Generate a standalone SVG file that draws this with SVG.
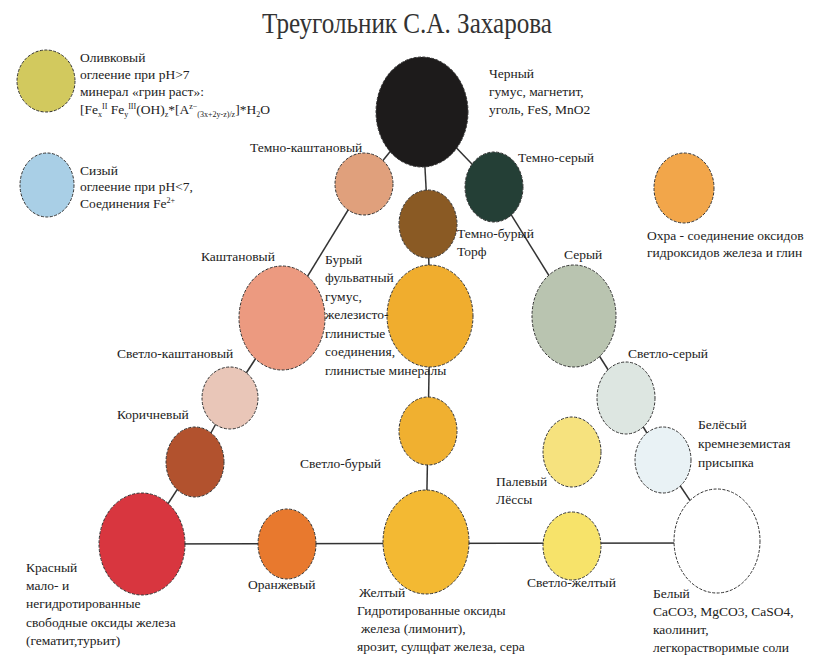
<svg xmlns="http://www.w3.org/2000/svg" width="817" height="660" viewBox="0 0 817 660">
<defs>
  <marker id="none" markerWidth="1" markerHeight="1"/>
</defs>
<rect width="817" height="660" fill="#ffffff"/>
<text font-family="Liberation Serif" font-size="30" fill="#333" x="262" y="33" textLength="290" lengthAdjust="spacingAndGlyphs">Треугольник С.А. Захарова</text>

<g id="connectors" stroke="#333" stroke-width="1.5">
  <line x1="422" y1="112" x2="364" y2="184"/>
  <line x1="364" y1="184" x2="282" y2="318"/>
  <line x1="282" y1="318" x2="230" y2="398"/>
  <line x1="230" y1="398" x2="195" y2="462"/>
  <line x1="195" y1="462" x2="142" y2="544"/>
  <line x1="422" y1="112" x2="428" y2="224"/>
  <line x1="428" y1="224" x2="430" y2="316"/>
  <line x1="430" y1="316" x2="428" y2="431"/>
  <line x1="428" y1="431" x2="426" y2="542"/>
  <line x1="422" y1="112" x2="494" y2="187"/>
  <line x1="494" y1="187" x2="574" y2="316"/>
  <line x1="574" y1="316" x2="626" y2="398"/>
  <line x1="626" y1="398" x2="663" y2="460"/>
  <line x1="663" y1="460" x2="717" y2="541"/>
  <line x1="142" y1="544" x2="717" y2="543"/>
</g>

<g font-family="Liberation Serif" font-size="13.5" fill="#222">

<g id="legend-olive">
  <ellipse cx="46" cy="81" rx="29" ry="31" fill="#d2c95e" stroke="#333" stroke-dasharray="3 1.5"/>
  <text x="80" y="62">Оливковый</text>
  <text x="80" y="79">оглеение при pH&gt;7</text>
  <text x="80" y="96">минерал «грин раст»:</text>
  <text x="80" y="114">[Fe<tspan font-size="8" dy="3">x</tspan><tspan font-size="8" dy="-8">II</tspan><tspan dy="5"> Fe</tspan><tspan font-size="8" dy="3">y</tspan><tspan font-size="8" dy="-8">III</tspan><tspan dy="5">(OH)</tspan><tspan font-size="8" dy="3">z</tspan><tspan dy="-3">*[A</tspan><tspan font-size="8" dy="-5">z−</tspan><tspan font-size="8" dy="8">(3x+2y-z)/z</tspan><tspan dy="-3">]*H</tspan><tspan font-size="8" dy="3">2</tspan><tspan dy="-3">O</tspan></text>
</g>

<g id="legend-blue">
  <ellipse cx="47" cy="185" rx="27" ry="32" fill="#a9cfe6" stroke="#333" stroke-dasharray="3 1.5"/>
  <text x="80" y="175">Сизый</text>
  <text x="80" y="191">оглеение при pH&lt;7,</text>
  <text x="80" y="208">Соединения Fe<tspan font-size="8" dy="-5">2+</tspan></text>
</g>

<g id="node-black">
  <ellipse cx="422" cy="112" rx="46" ry="55" fill="#1d1b1b" stroke="#333" stroke-dasharray="3 1.5"/>
  <text x="489" y="78">Черный</text>
  <text x="489" y="96">гумус, магнетит,</text>
  <text x="489" y="114">уголь, FeS, MnO2</text>
</g>

<g id="node-dark-chestnut">
  <ellipse cx="364" cy="184" rx="29" ry="31" fill="#e0a07c" stroke="#333" stroke-dasharray="3 1.5"/>
  <text x="250" y="152">Темно-каштановый</text>
</g>

<g id="node-dark-grey">
  <ellipse cx="494" cy="187" rx="29" ry="35" fill="#243f36" stroke="#333" stroke-dasharray="3 1.5"/>
  <text x="518" y="162">Темно-серый</text>
</g>

<g id="node-dark-brown">
  <ellipse cx="428" cy="224" rx="29" ry="34" fill="#8a5a24" stroke="#333" stroke-dasharray="3 1.5"/>
  <text x="457" y="238">Темно-бурый</text>
  <text x="457" y="256">Торф</text>
</g>

<g id="node-brown">
  <ellipse cx="430" cy="316" rx="43" ry="51" fill="#f0ad2e" stroke="#333" stroke-dasharray="3 1.5"/>
  <text x="325" y="264">Бурый</text>
  <text x="325" y="282">фульватный</text>
  <text x="325" y="301">гумус,</text>
  <text x="325" y="319">железисто-</text>
  <text x="325" y="338">глинистые</text>
  <text x="325" y="356">соединения,</text>
  <text x="325" y="375">глинистые минералы</text>
</g>

<g id="node-chestnut">
  <ellipse cx="282" cy="318" rx="43" ry="52" fill="#ec9a80" stroke="#333" stroke-dasharray="3 1.5"/>
  <text x="201" y="261">Каштановый</text>
</g>

<g id="node-grey">
  <ellipse cx="574" cy="316" rx="42" ry="51" fill="#b9c4b0" stroke="#333" stroke-dasharray="3 1.5"/>
  <text x="564" y="259">Серый</text>
</g>

<g id="node-ochre">
  <ellipse cx="684" cy="188" rx="30" ry="35" fill="#f2a64a" stroke="#333" stroke-dasharray="3 1.5"/>
  <text x="647" y="240">Охра - соединение оксидов</text>
  <text x="647" y="257">гидроксидов железа и глин</text>
</g>

<g id="node-light-chestnut">
  <ellipse cx="230" cy="398" rx="28" ry="31" fill="#e9c6b8" stroke="#333" stroke-dasharray="3 1.5"/>
  <text x="117" y="358">Светло-каштановый</text>
</g>

<g id="node-light-grey">
  <ellipse cx="626" cy="398" rx="29" ry="36" fill="#dde6e1" stroke="#333" stroke-dasharray="3 1.5"/>
  <text x="628" y="358">Светло-серый</text>
</g>

<g id="node-cinnamon">
  <ellipse cx="195" cy="462" rx="29" ry="35" fill="#b2522e" stroke="#333" stroke-dasharray="3 1.5"/>
  <text x="117" y="419">Коричневый</text>
</g>

<g id="node-light-brown">
  <ellipse cx="428" cy="431" rx="29" ry="34" fill="#f0b030" stroke="#333" stroke-dasharray="3 1.5"/>
  <text x="300" y="468">Светло-бурый</text>
</g>

<g id="node-pale">
  <ellipse cx="572" cy="452" rx="29" ry="35" fill="#f6e27e" stroke="#333" stroke-dasharray="3 1.5"/>
  <text x="496" y="486">Палевый</text>
  <text x="496" y="504">Лёссы</text>
</g>

<g id="node-whitish">
  <ellipse cx="663" cy="460" rx="28" ry="33" fill="#e9f2f5" stroke="#333" stroke-dasharray="3 1.5"/>
  <text x="698" y="429">Белёсый</text>
  <text x="698" y="448">кремнеземистая</text>
  <text x="698" y="467">присыпка</text>
</g>

<g id="node-red">
  <ellipse cx="142" cy="544" rx="43" ry="51" fill="#d8363f" stroke="#333" stroke-dasharray="3 1.5"/>
  <text x="26" y="572">Красный</text>
  <text x="26" y="590">мало- и</text>
  <text x="26" y="608">негидротированные</text>
  <text x="26" y="627">свободные оксиды железа</text>
  <text x="26" y="645">(гематит,турьит)</text>
</g>

<g id="node-orange">
  <ellipse cx="287" cy="544" rx="29" ry="35" fill="#e8792e" stroke="#333" stroke-dasharray="3 1.5"/>
  <text x="248" y="589">Оранжевый</text>
</g>

<g id="node-yellow">
  <ellipse cx="426" cy="542" rx="43" ry="52" fill="#f3b933" stroke="#333" stroke-dasharray="3 1.5"/>
  <text x="359" y="597">Желтый</text>
  <text x="357" y="615">Гидротированные оксиды</text>
  <text x="361" y="633">железа (лимонит),</text>
  <text x="357" y="651">ярозит, сулщфат железа, сера</text>
</g>

<g id="node-light-yellow">
  <ellipse cx="572" cy="546" rx="29" ry="34" fill="#f7e36a" stroke="#333" stroke-dasharray="3 1.5"/>
  <text x="527" y="587">Светло-желтый</text>
</g>

<g id="node-white">
  <ellipse cx="717" cy="541" rx="43" ry="52" fill="#ffffff" stroke="#333" stroke-dasharray="3 1.5"/>
  <text x="653" y="598">Белый</text>
  <text x="653" y="616">CaCO3, MgCO3, CaSO4,</text>
  <text x="653" y="634">каолинит,</text>
  <text x="653" y="652">легкорастворимые соли</text>
</g>

</g>
</svg>
